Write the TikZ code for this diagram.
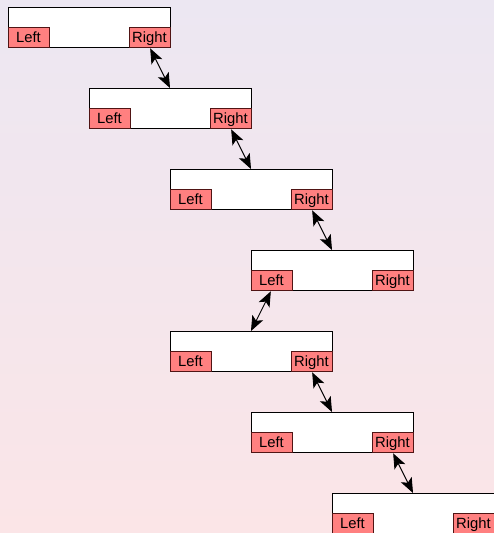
\documentclass[tikz,border=0pt]{standalone}
\usepackage{fontspec}
\setmainfont{Liberation Sans}
\usetikzlibrary{arrows.meta}
\definecolor{bgtop}{RGB}{236,231,242}
\definecolor{bgbot}{RGB}{251,229,231}
\definecolor{redfill}{RGB}{255,128,128}
\definecolor{redline}{RGB}{80,20,20}
\begin{document}
\begin{tikzpicture}[x=1pt,y=-1pt,
 mainbox/.style={draw=black,fill=white,line width=1pt,minimum width=162pt,minimum height=40pt,inner sep=0pt,outer sep=0pt},
 portbox/.style={draw=redline,fill=redfill,line width=1pt,minimum width=41pt,minimum height=20pt,inner sep=0pt,outer sep=0pt,text height=10.6pt,text depth=0pt,font=\fontsize{14.8}{17}\selectfont},
 link/.style={line width=0.9pt,shorten <=1.5pt,{Stealth[length=15pt,width=12pt,inset=3.5pt]}-{Stealth[length=15pt,width=12pt,inset=3.5pt]}}]
\useasboundingbox (0,0) rectangle (494,533);
\clip (0,0) rectangle (494,533);
\shade[top color=bgtop,bottom color=bgbot] (0,0) rectangle (494,533);
\foreach \n/\x/\y in {1/8/7,2/89/88,3/170/169,4/251/250,5/170/331,6/251/412,7/332/493}{
  \node[mainbox,anchor=north west] (b\n) at (\x,\y) {};
  \node[portbox,anchor=south west] (b\n L) at (b\n.south west) {Left};
  \node[portbox,anchor=south east] (b\n R) at (b\n.south east) {Right};
}
\draw[link] (b1R.south) -- (b2.north);
\draw[link] (b2R.south) -- (b3.north);
\draw[link] (b3R.south) -- (b4.north);
\draw[link] (b4L.south) -- (b5.north);
\draw[link] (b5R.south) -- (b6.north);
\draw[link] (b6R.south) -- (b7.north);
\end{tikzpicture}
\end{document}
